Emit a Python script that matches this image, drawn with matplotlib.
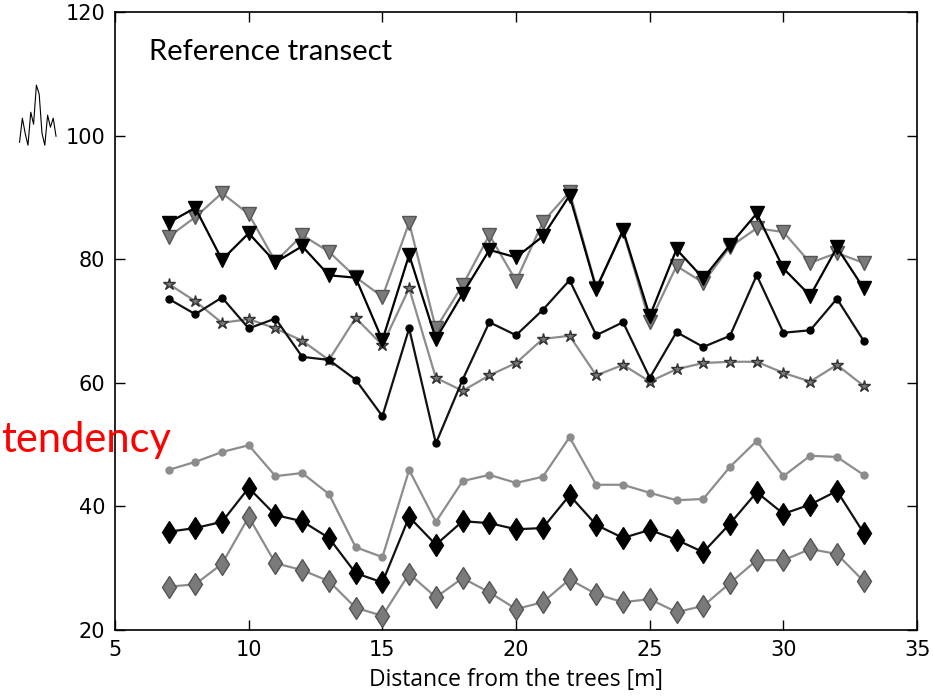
import numpy as np
import matplotlib
matplotlib.use("Agg")
import matplotlib.pyplot as plt

## distances along the transect
dist = np.arange(7, 34)

## series
tri_black = [85.9, 88.3, 79.9, 84.2, 79.5, 82.1, 77.4, 77.0, 66.9, 80.7, 67.1, 74.4, 81.5, 80.3,
             83.7, 90.3, 75.2, 84.7, 70.8, 81.6, 76.9, 82.3, 87.4, 78.5, 74.1, 81.9, 75.3]
tri_gray = [83.6, 86.8, 90.7, 87.3, 79.6, 83.9, 81.2, 77.1, 73.9, 85.9, 68.8, 75.8, 83.9, 76.5,
            86.0, 90.9, 75.4, 84.5, 69.8, 78.9, 76.2, 82.0, 85.0, 84.4, 79.4, 81.0, 79.4]
dot_black = [73.6, 71.1, 73.8, 68.8, 70.4, 64.2, 63.7, 60.5, 54.6, 68.8, 50.2, 60.5, 69.8, 67.7,
             71.8, 76.6, 67.7, 69.8, 60.8, 68.2, 65.8, 67.6, 77.4, 68.1, 68.5, 73.6, 66.8]
star_gray = [76.0, 73.2, 69.7, 70.3, 68.8, 66.8, 63.7, 70.5, 66.1, 75.3, 60.8, 58.7, 61.2, 63.2,
             67.1, 67.6, 61.2, 62.9, 60.2, 62.2, 63.2, 63.4, 63.4, 61.6, 60.2, 62.9, 59.5]
dot_gray = [45.9, 47.2, 48.8, 49.9, 44.9, 45.4, 42.0, 33.4, 31.8, 45.9, 37.5, 44.1, 45.1, 43.8,
            44.8, 51.2, 43.5, 43.5, 42.2, 41.0, 41.2, 46.4, 50.6, 44.9, 48.2, 48.0, 45.1]
dia_black = [35.9, 36.5, 37.5, 43.0, 38.6, 37.6, 34.9, 29.2, 27.7, 38.3, 33.8, 37.6, 37.3, 36.3,
             36.5, 41.8, 37.0, 34.9, 36.2, 34.6, 32.6, 37.2, 42.3, 38.8, 40.3, 42.5, 35.7]
dia_gray = [27.0, 27.4, 30.7, 38.3, 30.8, 29.7, 27.9, 23.6, 22.3, 29.1, 25.3, 28.4, 26.1, 23.4,
            24.5, 28.2, 25.8, 24.5, 25.0, 22.9, 23.9, 27.6, 31.3, 31.3, 33.1, 32.3, 27.9]

## little hand-drawn squiggle next to the y axis
squiggle = [0.05, 0.45, 0.2, 0.0, 0.55, 0.35, 1.0, 0.85, 0.2, 0.0, 0.5, 0.3, 0.45, 0.15]

fig = plt.figure(figsize=(9.33, 6.96), dpi=100)
ax = fig.add_axes([0.1233, 0.0948, 0.8597, 0.888])

gline = "#8c8c8c"
gfill = "#7a7a7a"
gedge = "#555555"

ax.plot(dist, tri_gray, color=gline, lw=1.6, marker="v", ms=10, mfc=gfill, mec=gedge, zorder=2)
ax.plot(dist, tri_black, color="black", lw=1.6, marker="v", ms=10, mfc="black", mec="black", zorder=3)
ax.plot(dist, star_gray, color=gline, lw=1.6, marker="*", ms=9, mfc=gfill, mec="#333333", zorder=2)
ax.plot(dist, dot_black, color="#111111", lw=1.6, marker="o", ms=5, mfc="black", mec="black", zorder=3)
ax.plot(dist, dot_gray, color=gline, lw=1.6, marker="o", ms=5, mfc=gline, mec=gline, zorder=2)
ax.plot(dist, dia_black, color="#111111", lw=1.6, marker="d", ms=11.5, mfc="black", mec="black", zorder=3)
ax.plot(dist, dia_gray, color=gline, lw=1.6, marker="d", ms=11.5, mfc=gfill, mec=gedge, zorder=2)

ax.set_xlim(5, 35)
ax.set_ylim(20, 120)
ax.set_xticks([5, 10, 15, 20, 25, 30, 35])
ax.set_yticks([20, 40, 60, 80, 100, 120])
ax.tick_params(direction="in", top=True, right=True, length=7, width=1, labelsize=15, pad=7)
for s in ax.spines.values():
    s.set_linewidth(1.2)
ax.set_xlabel("Distance from the trees [m]", fontsize=16.5, family="Open Sans", labelpad=6)

## overlaid annotations
fig.text(0.160, 0.925, "Reference transect", fontsize=21, family="Lato", va="center")
fig.text(0.001, 0.368, "tendency", color="red", fontsize=30, family="Lato", va="center")

sq = fig.add_axes([0.019, 0.787, 0.043, 0.095])
sq.plot(np.arange(len(squiggle)), squiggle, color="black", lw=0.8)
sq.axis("off")

fig.savefig("out.png", dpi=100)
